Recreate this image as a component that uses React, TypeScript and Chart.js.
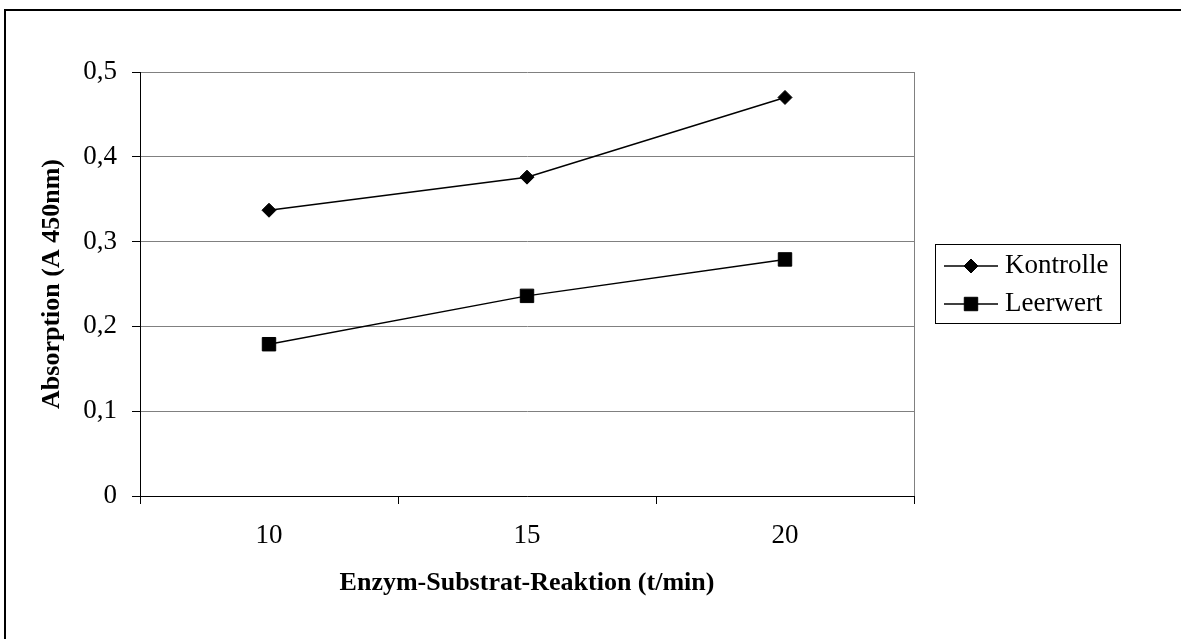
import React, { useEffect, useRef } from 'react';
import { Chart, registerables } from 'chart.js';
import * as helpers from 'chart.js/helpers';

Chart.register(...registerables);

const categories = ['10', '15', '20'];
const kontrolle = [0.337, 0.376, 0.47];
const leerwert = [0.179, 0.236, 0.279];
const yTickValues = [0, 0.1, 0.2, 0.3, 0.4, 0.5];
const seriesNames = ['Kontrolle', 'Leerwert'];
const xTitle = 'Enzym-Substrat-Reaktion (t/min)';
const yTitle = 'Absorption (A 450nm)';

const FONT = "'Liberation Serif', 'Times New Roman', serif";

const framePlugin = {
  id: 'framePlugin',
  beforeDraw(chart: any) {
    const { ctx, width, height } = chart;
    ctx.save();
    ctx.fillStyle = '#fff';
    ctx.fillRect(0, 0, width, height);
    ctx.strokeStyle = '#000';
    ctx.lineWidth = 2;
    ctx.beginPath();
    ctx.moveTo(5, height + 10);
    ctx.lineTo(5, 10);
    ctx.lineTo(width + 10, 10);
    ctx.stroke();
    ctx.restore();
  },
  afterDraw(chart: any) {
    const { ctx, chartArea } = chart;
    ctx.save();
    // right border of plot area
    ctx.strokeStyle = '#808080';
    ctx.lineWidth = 1;
    ctx.beginPath();
    ctx.moveTo(chartArea.right + 0.5, chartArea.top);
    ctx.lineTo(chartArea.right + 0.5, chartArea.bottom);
    ctx.stroke();

    // legend
    const bx = 935.5, by = 244.5, bw = 185, bh = 79;
    ctx.strokeStyle = '#000';
    ctx.lineWidth = 1;
    ctx.strokeRect(bx, by, bw, bh);
    chart.data.datasets.forEach((ds: any, i: number) => {
      const y = 266 + i * 38;
      ctx.strokeStyle = '#000';
      ctx.lineWidth = 1.5;
      ctx.beginPath();
      ctx.moveTo(944, y);
      ctx.lineTo(998, y);
      ctx.stroke();
      ctx.fillStyle = '#000';
      ctx.strokeStyle = '#000';
      ctx.lineWidth = 1;
      helpers.drawPoint(ctx, { pointStyle: ds.pointStyle, radius: ds.pointRadius, rotation: 0, borderWidth: 1 } as any, 971, y);
      ctx.fillStyle = '#000';
      ctx.font = `27px ${FONT}`;
      ctx.textAlign = 'left';
      ctx.textBaseline = 'middle';
      ctx.fillText(ds.label, 1005, y);
    });
    ctx.restore();
  },
};

export default function App() {
  const ref = useRef<HTMLCanvasElement | null>(null);

  useEffect(() => {
    if (!ref.current) return;
    const chart = new Chart(ref.current, {
      type: 'line',
      data: {
        labels: categories,
        datasets: [
          {
            label: seriesNames[0],
            data: kontrolle,
            borderColor: '#000',
            backgroundColor: '#000',
            borderWidth: 1.5,
            pointStyle: 'rectRot',
            pointRadius: 7,
            pointBorderWidth: 1,
            pointBackgroundColor: '#000',
            pointBorderColor: '#000',
            tension: 0,
          },
          {
            label: seriesNames[1],
            data: leerwert,
            borderColor: '#000',
            backgroundColor: '#000',
            borderWidth: 1.5,
            pointStyle: 'rect',
            pointRadius: 9.5,
            pointBorderWidth: 1,
            pointBackgroundColor: '#000',
            pointBorderColor: '#000',
            tension: 0,
          },
        ],
      },
      options: {
        responsive: false,
        animation: false,
        devicePixelRatio: 1,
        layout: { padding: { top: 72, right: 267, bottom: 0, left: 0 } },
        plugins: {
          legend: { display: false },
          tooltip: { enabled: false },
          title: { display: false },
        },
        scales: {
          x: {
            type: 'category',
            offset: true,
            grid: {
              offset: true,
              drawOnChartArea: false,
              drawTicks: true,
              tickLength: 8,
              tickColor: '#000',
              color: '#000',
            },
            border: { display: true, color: '#000', width: 1 },
            ticks: {
              color: '#000',
              font: { family: FONT, size: 27 },
              padding: 16,
              maxRotation: 0,
            },
            title: {
              display: true,
              text: xTitle,
              color: '#000',
              font: { family: FONT, size: 26, weight: 'bold' },
              padding: { top: 0, bottom: 40 },
            },
            afterFit(s: any) {
              s.height = 143;
            },
          },
          y: {
            type: 'linear',
            min: 0,
            max: 0.5,
            afterBuildTicks(s: any) {
              s.ticks = yTickValues.map((v) => ({ value: v }));
            },
            grid: {
              color: '#808080',
              lineWidth: 1,
              drawTicks: true,
              tickLength: 8,
              tickColor: '#000',
            },
            border: { display: true, color: '#000', width: 1 },
            ticks: {
              color: '#000',
              font: { family: FONT, size: 27 },
              padding: 15,
              callback: (v: any) => (Number(v) === 0 ? '0' : Number(v).toFixed(1).replace('.', ',')),
            },
            title: {
              display: true,
              text: yTitle,
              color: '#000',
              font: { family: FONT, size: 26, weight: 'bold' },
              padding: { top: 37, bottom: 0 },
            },
            afterFit(s: any) {
              s.width = 140;
            },
          },
        },
      },
      plugins: [framePlugin],
    });
    return () => chart.destroy();
  }, []);

  return (
    <div style={{ position: 'absolute', left: 0, top: 0, width: 1181, height: 639 }}>
      <canvas ref={ref} width={1181} height={639} style={{ display: 'block' }} />
    </div>
  );
}
